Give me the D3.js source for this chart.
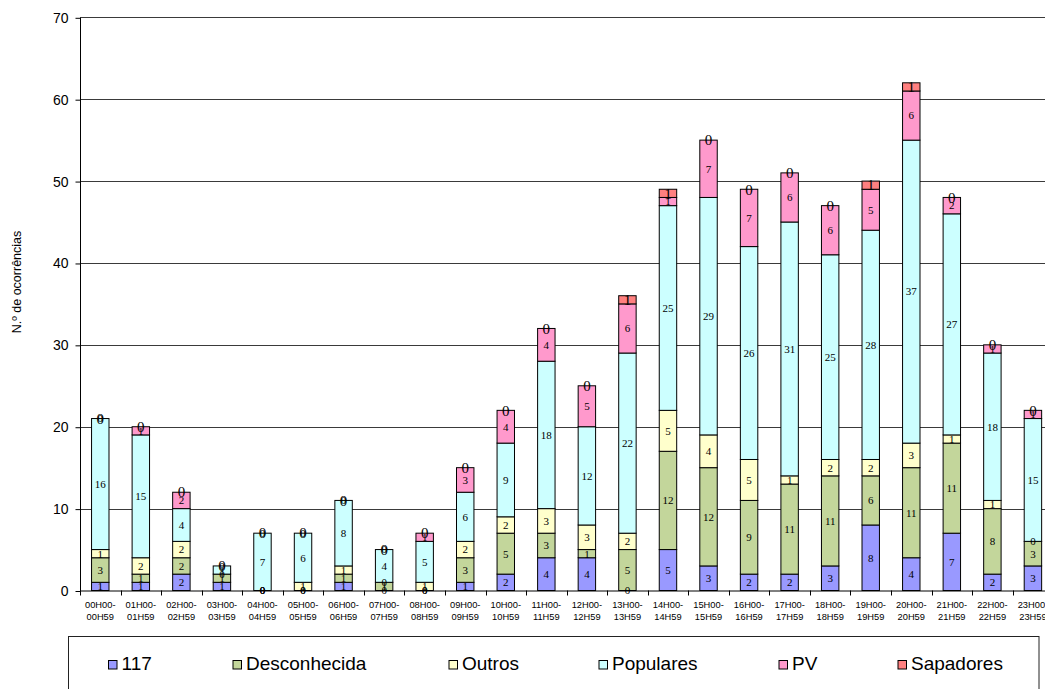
<!DOCTYPE html>
<html>
<head>
<meta charset="utf-8">
<script src="https://cdn.jsdelivr.net/npm/d3@7/dist/d3.min.js"></script>
<style>
  html, body { margin: 0; padding: 0; background: #fff; overflow: hidden; }
  svg { display: block; }
</style>
</head>
<body>
<svg id="chart" width="1045" height="689"></svg>
<script>
// ---------- DATA ----------
const categories = ["00H00-00H59","01H00-01H59","02H00-02H59","03H00-03H59","04H00-04H59","05H00-05H59",
  "06H00-06H59","07H00-07H59","08H00-08H59","09H00-09H59","10H00-10H59","11H00-11H59",
  "12H00-12H59","13H00-13H59","14H00-14H59","15H00-15H59","16H00-16H59","17H00-17H59",
  "18H00-18H59","19H00-19H59","20H00-20H59","21H00-21H59","22H00-22H59","23H00-23H59"];
const seriesNames = ["117","Desconhecida","Outros","Populares","PV","Sapadores"];
const s117         = [1,1,2,1,0,0,1,0,0,1,2,4,4,0,5,3,2,2,3,8,4,7,2,3];
const sDesconhecida= [3,1,2,1,0,0,1,1,0,3,5,3,1,5,12,12,9,11,11,6,11,11,8,3];
const sOutros      = [1,2,2,0,0,1,1,0,1,2,2,3,3,2,5,4,5,1,2,2,3,1,1,0];
const sPopulares   = [16,15,4,1,7,6,8,4,5,6,9,18,12,22,25,29,26,31,25,28,37,27,18,15];
const sPV          = [0,1,2,0,0,0,0,0,1,3,4,4,5,6,1,7,7,6,6,5,6,2,1,1];
const sSapadores   = [0,0,0,0,0,0,0,0,0,0,0,0,0,1,1,0,0,0,0,1,1,0,0,0];
const yTicks = [0,10,20,30,40,50,60,70];
const yTitle = "N.º de ocorrências";

// ---------- STYLE / LAYOUT ----------
const colors = ["#9999FF","#C3D69B","#FFFFCC","#CCFFFF","#FF99CC","#FF8080"];
const labelSizes = [11,11,11,11,11,15];
const svg = d3.select("#chart");
const left = 80, step = 40.55, yBottom = 590.5, yTop = 17.3;

const table = categories.map((c, i) => ({
  cat: c,
  "117": s117[i], "Desconhecida": sDesconhecida[i], "Outros": sOutros[i],
  "Populares": sPopulares[i], "PV": sPV[i], "Sapadores": sSapadores[i]
}));
const stacked = d3.stack().keys(seriesNames)(table);

const x = d3.scaleBand().domain(categories)
  .range([left, left + step * categories.length])
  .paddingInner(0.57).paddingOuter(0.285);
const y = d3.scaleLinear().domain([0, 70]).range([yBottom, yTop]);

// gridlines
svg.append("g").selectAll("line").data(yTicks.filter(t => t > 0)).join("line")
  .attr("x1", left).attr("x2", 1045)
  .attr("y1", d => Math.round(y(d)) + 0.5).attr("y2", d => Math.round(y(d)) + 0.5)
  .attr("stroke", "#3a3a3a").attr("stroke-width", 1);

// bars
const g = svg.append("g");
stacked.forEach((layer, si) => {
  g.append("g").selectAll("rect").data(layer).join("rect")
    .attr("x", d => x(d.data.cat))
    .attr("width", x.bandwidth())
    .attr("y", d => y(d[1]))
    .attr("height", d => y(d[0]) - y(d[1]))
    .attr("fill", colors[si])
    .attr("stroke", "#000").attr("stroke-width", 1);
});

// data labels
stacked.forEach((layer, si) => {
  g.append("g").selectAll("text").data(layer).join("text")
    .attr("x", d => x(d.data.cat) + x.bandwidth() / 2)
    .attr("y", d => (y(d[0]) + y(d[1])) / 2)
    .attr("dy", "0.35em")
    .attr("text-anchor", "middle")
    .attr("font-family", "'Liberation Serif','Times New Roman',serif")
    .attr("font-size", labelSizes[si])
    .attr("fill", "#000")
    .text(d => d[1] - d[0]);
});

// y axis
const yAxis = d3.axisLeft(y).tickValues(yTicks).tickSize(5).tickPadding(7);
const ya = svg.append("g").attr("transform", `translate(${left + 0.5},0.5)`).call(yAxis);
ya.select(".domain").attr("stroke", "#000").attr("d", `M0,${yTop}V${yBottom}`);
ya.selectAll(".tick line").attr("stroke", "#000");
ya.selectAll("text").attr("font-family", "'Liberation Sans',Arial,sans-serif")
  .attr("font-size", 14).attr("fill", "#000");

// x axis
const xAxis = d3.axisBottom(x).tickSize(0).tickFormat("");
const xa = svg.append("g").attr("transform", `translate(0,${yBottom})`).call(xAxis);
xa.select(".domain").attr("stroke", "#000").attr("d", `M${left},0.5H1045`);
// tick marks at category boundaries
xa.append("g").selectAll("line").data(categories.map((c, i) => i)).join("line")
  .attr("x1", i => Math.round(left + step * i) + 0.5)
  .attr("x2", i => Math.round(left + step * i) + 0.5)
  .attr("y1", 0).attr("y2", 5).attr("stroke", "#000");
// category labels (two lines)
const lbl = svg.append("g").selectAll("text").data(categories).join("text")
  .attr("text-anchor", "middle")
  .attr("font-family", "'Liberation Sans',Arial,sans-serif")
  .attr("font-size", 9.3).attr("fill", "#000");
lbl.append("tspan").attr("x", d => x(d) + x.bandwidth() / 2).attr("y", 607.5)
  .text(d => d.split("-")[0] + "-");
lbl.append("tspan").attr("x", d => x(d) + x.bandwidth() / 2).attr("y", 619.5)
  .text(d => d.split("-")[1]);

// y title
svg.append("text")
  .attr("transform", "translate(21,282) rotate(-90)")
  .attr("text-anchor", "middle")
  .attr("font-family", "'Liberation Sans',Arial,sans-serif")
  .attr("font-size", 12.5).attr("fill", "#000")
  .text(yTitle);

// legend
svg.append("rect").attr("x", 68.5).attr("y", 636.5).attr("width", 970.5).attr("height", 80)
  .attr("fill", "#fff").attr("stroke", "#222").attr("stroke-width", 1);
const legendX = [108, 232.5, 448.5, 598.5, 778.5, 897.5];
const lg = svg.append("g").selectAll("g").data(seriesNames).join("g")
  .attr("transform", (d, i) => `translate(${legendX[i]},0)`);
lg.append("rect").attr("x", 0.5).attr("y", 660.5).attr("width", 8.5).attr("height", 8.5)
  .attr("fill", (d, i) => colors[i]).attr("stroke", "#000").attr("stroke-width", 1);
lg.append("text").attr("x", 13.5).attr("y", 670)
  .attr("font-family", "'Liberation Sans',Arial,sans-serif")
  .attr("font-size", 19).attr("fill", "#000")
  .text(d => d);
</script>
</body>
</html>
